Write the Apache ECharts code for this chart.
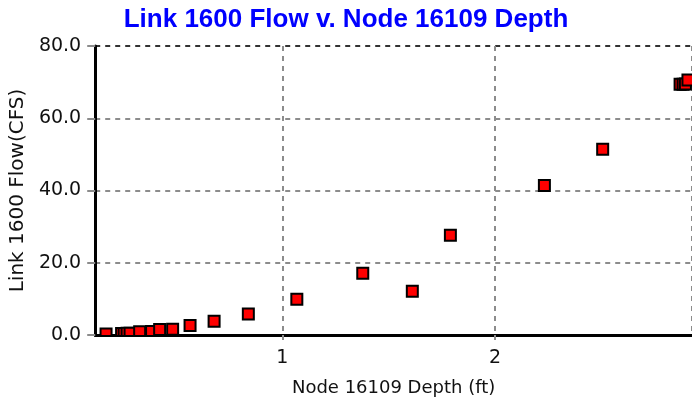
<!DOCTYPE html>
<html>
<head>
<meta charset="utf-8">
<script src="https://cdn.jsdelivr.net/npm/echarts@6/dist/echarts.min.js"></script>
<style>
  html, body { margin: 0; padding: 0; background: #ffffff; }
  #chart { width: 692px; height: 402px; }
</style>
</head>
<body>
<div id="chart"></div>
<script>
// Node 16109 depth (ft) and the matching Link 1600 flow (CFS)
const depth = [0.171, 0.244, 0.256, 0.270, 0.284, 0.329, 0.385, 0.423, 0.484, 0.566, 0.679, 0.840,
               1.068, 1.378, 1.611, 1.790, 2.232, 2.506, 2.870, 2.884, 2.895, 2.907];
const flow  = [0.3, 0.4, 0.4, 0.5, 0.5, 0.9, 1.0, 1.5, 1.6, 2.6, 3.8, 5.8,
               9.9, 17.1, 12.1, 27.6, 41.4, 51.4, 69.4, 69.4, 69.5, 70.6];

const titleText = 'Link 1600 Flow v. Node 16109 Depth';
const xName = 'Node 16109 Depth (ft)';
const yName = 'Link 1600 Flow(CFS)';
const yTicks = [0, 20, 40, 60, 80];

const points = depth.map((d, i) => [d, flow[i]]);

const chart = echarts.init(document.getElementById('chart'), null, { renderer: 'canvas' });

const dashGray = { color: '#8c8c8c', width: 2, type: [5, 5] };

chart.setOption({
  animation: false,
  backgroundColor: '#ffffff',
  title: {
    text: titleText,
    left: 'center',
    top: 7,
    padding: 0,
    textStyle: {
      color: '#0000ff',
      fontFamily: 'Liberation Sans',
      fontWeight: 'bold',
      fontSize: 26
    }
  },
  grid: { left: 95, right: 0, top: 46, bottom: 67 },
  xAxis: {
    type: 'value',
    min: 0.12,
    max: 2.926,
    splitNumber: 3,
    name: xName,
    nameLocation: 'middle',
    nameGap: 44,
    nameTextStyle: { color: '#111', fontFamily: 'DejaVu Sans', fontSize: 18 },
    axisLine: { show: true, onZero: false, lineStyle: { color: '#000', width: 3 } },
    axisTick: { show: true, length: 10, lineStyle: dashGray },
    axisLabel: {
      showMinLabel: false, showMaxLabel: false,
      margin: 14,
      color: '#111', fontFamily: 'DejaVu Sans', fontSize: 19
    },
    splitLine: { show: true, lineStyle: dashGray }
  },
  yAxis: {
    type: 'value',
    min: yTicks[0],
    max: yTicks[yTicks.length - 1],
    interval: 20,
    name: yName,
    nameLocation: 'middle',
    nameGap: 66,
    nameTextStyle: { color: '#111', fontFamily: 'DejaVu Sans', fontSize: 20 },
    axisLine: { show: true, lineStyle: { color: '#000', width: 3 } },
    axisTick: { show: true, length: 8, lineStyle: { color: '#8c8c8c', width: 2 } },
    axisLabel: {
      margin: 14,
      color: '#111', fontFamily: 'DejaVu Sans', fontSize: 19,
      formatter: v => v.toFixed(1)
    },
    splitLine: {
      show: true,
      lineStyle: { color: ['#8c8c8c', '#8c8c8c', '#8c8c8c', '#8c8c8c', '#333333'], width: 2, type: [5, 5] }
    }
  },
  series: [{
    type: 'custom',
    clip: true,
    data: points,
    renderItem: function (params, api) {
      const p = api.coord([api.value(0), api.value(1)]);
      return {
        type: 'rect',
        shape: { x: p[0] - 5.5, y: p[1] - 5.5, width: 11, height: 11 },
        style: { fill: '#ff0000', stroke: '#000000', lineWidth: 2 }
      };
    }
  }]
});
</script>
</body>
</html>
